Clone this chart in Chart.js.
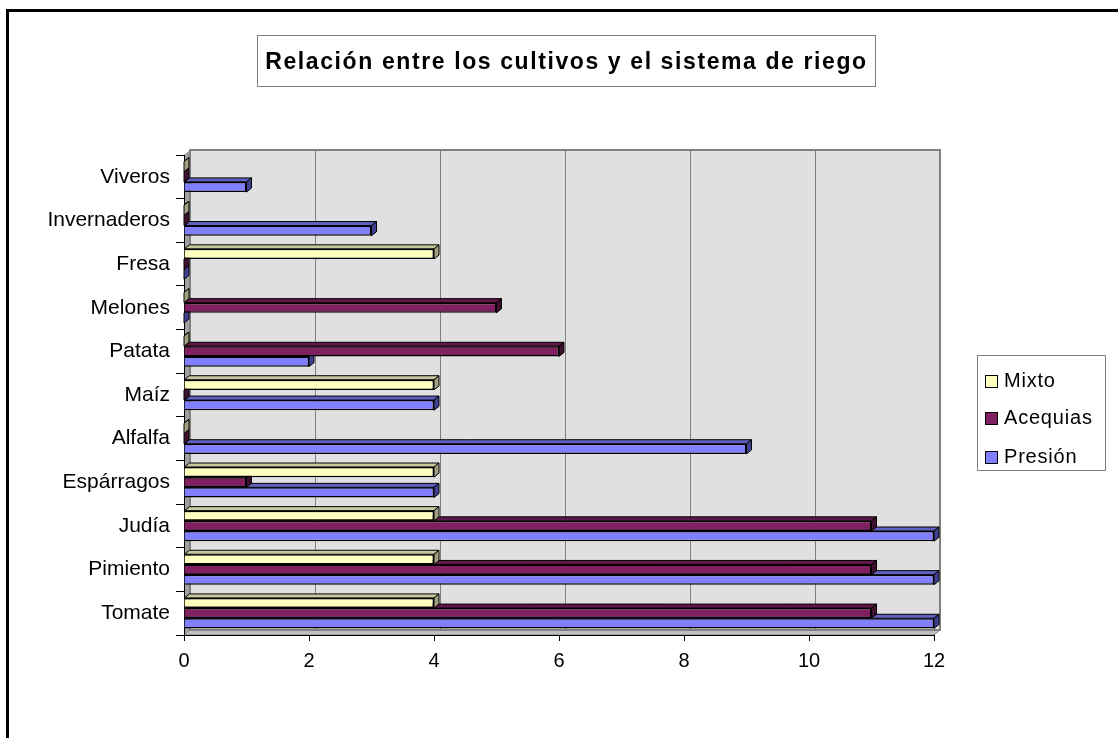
<!DOCTYPE html>
<html>
<head>
<meta charset="utf-8">
<script src="https://cdn.jsdelivr.net/npm/chart.js@4.4.1/dist/chart.umd.min.js"></script>
<style>
body { margin: 0; background: #fff; font-family: "Liberation Sans", Arial, sans-serif; }
#wrap { position: relative; width: 1118px; height: 738px; overflow: hidden; }
#frame { position: absolute; left: 6px; top: 9px; width: 1200px; height: 800px; border-left: 3px solid #000; border-top: 3px solid #000; }
canvas { position: absolute; left: 0; top: 0; }
#title { position: absolute; left: 257px; top: 35px; width: 619px; height: 52px; box-sizing: border-box; border: 1px solid #808080;
  text-align: center; line-height: 50px; font-weight: bold; font-size: 23px; letter-spacing: 1.6px; white-space: nowrap; }
#legend { position: absolute; left: 977px; top: 355px; width: 129px; height: 116px; box-sizing: border-box; border: 1px solid #808080; }
.item { position: absolute; left: 7px; font-size: 20px; letter-spacing: 0.8px; line-height: 20px; white-space: nowrap; }
.sw { display: inline-block; width: 11px; height: 11px; border: 1.5px solid #000; margin-right: 6px; vertical-align: -1px; }
</style>
</head>
<body>
<div id="wrap">
  <div id="frame"></div>
  <canvas id="chart" width="1118" height="738"></canvas>
  <div id="title">Relación entre los cultivos y el sistema de riego</div>
  <div id="legend"></div>
</div>
<script>
// categories bottom to top, as in the sheet
const categories = ['Tomate', 'Pimiento', 'Judía', 'Espárragos', 'Alfalfa', 'Maíz', 'Patata', 'Melones', 'Fresa', 'Invernaderos', 'Viveros'];
const seriesNames = ['Mixto', 'Acequias', 'Presión'];
const mixto = [4, 4, 4, 4, 0, 4, 0, 0, 4, 0, 0];
const acequias = [11, 11, 11, 1, 0, 0, 6, 5, 0, 0, 0];
const presion = [12, 12, 12, 4, 9, 4, 2, 0, 0, 3, 1];
const xMax = 12;
const xStep = 2;

// front / top / end colours of the 3d bars
const colors = [
    { front: '#FFFFC0', top: '#C8C8A0', side: '#A0A080' },
    { front: '#802060', top: '#601848', side: '#401030' },
    { front: '#8080FF', top: '#6060C0', side: '#404090' }
];

const FONT = '"Liberation Sans", Arial, sans-serif';

const walls = {
    id: 'walls',
    beforeDraw(chart) {
        const ctx = chart.ctx;
        const a = chart.chartArea;
        const xs = chart.scales.x;
        const d = 6, e = 5;
        ctx.save();
        ctx.fillStyle = '#E0E0E0';
        ctx.fillRect(a.left + d, a.top - e, a.right - a.left, a.bottom - a.top);
        // side wall
        ctx.beginPath();
        ctx.moveTo(a.left, a.top);
        ctx.lineTo(a.left + d, a.top - e);
        ctx.lineTo(a.left + d, a.bottom - e);
        ctx.lineTo(a.left, a.bottom);
        ctx.closePath();
        ctx.fillStyle = '#A0A0A0';
        ctx.fill();
        // floor
        ctx.beginPath();
        ctx.moveTo(a.left, a.bottom);
        ctx.lineTo(a.left + d, a.bottom - e);
        ctx.lineTo(a.right + d, a.bottom - e);
        ctx.lineTo(a.right, a.bottom);
        ctx.closePath();
        ctx.fillStyle = '#C0C0C0';
        ctx.fill();
        ctx.strokeStyle = '#808080';
        ctx.lineWidth = 1;
        ctx.stroke();
        // grid on back wall
        ctx.beginPath();
        for (let v = 0; v <= xMax; v += xStep) {
            const x = Math.round(xs.getPixelForValue(v) + d) + 0.5;
            ctx.moveTo(x, a.top - e);
            ctx.lineTo(x, a.bottom - e);
        }
        ctx.strokeStyle = '#808080';
        ctx.stroke();
        ctx.lineWidth = 2;
        ctx.strokeRect(a.left + d, a.top - e, a.right - a.left, a.bottom - a.top);
        ctx.restore();
    }
};

const bars3d = {
    id: 'bars3d',
    afterDatasetDraw(chart, args) {
        const ctx = chart.ctx;
        const c = colors[args.index];
        const dx = 5, dy = 4;
        ctx.save();
        ctx.lineWidth = 1;
        ctx.strokeStyle = '#000';
        args.meta.data.forEach(el => {
            const p = el.getProps(['x', 'y', 'base', 'height'], true);
            const x0 = Math.min(p.base, p.x), x1 = Math.max(p.base, p.x);
            const yt = p.y - p.height / 2, yb = p.y + p.height / 2;
            ctx.beginPath();
            ctx.moveTo(x0, yt);
            ctx.lineTo(x0 + dx, yt - dy);
            ctx.lineTo(x1 + dx, yt - dy);
            ctx.lineTo(x1, yt);
            ctx.closePath();
            ctx.fillStyle = c.top;
            ctx.fill();
            ctx.stroke();
            ctx.beginPath();
            ctx.moveTo(x1, yt);
            ctx.lineTo(x1 + dx, yt - dy);
            ctx.lineTo(x1 + dx, yb - dy);
            ctx.lineTo(x1, yb);
            ctx.closePath();
            ctx.fillStyle = c.side;
            ctx.fill();
            ctx.stroke();
        });
        ctx.restore();
    }
};

const values = [mixto, acequias, presion];

new Chart(document.getElementById('chart'), {
    type: 'bar',
    data: {
        labels: categories,
        datasets: seriesNames.map((name, i) => ({
            label: name,
            data: values[i],
            backgroundColor: colors[i].front,
            borderColor: '#000',
            borderWidth: 1.5,
            borderSkipped: 'start'
        }))
    },
    options: {
        indexAxis: 'y',
        responsive: false,
        animation: false,
        layout: { padding: { top: 155, right: 184, bottom: 0, left: 0 } },
        datasets: { bar: { categoryPercentage: 0.7, barPercentage: 1 } },
        plugins: { legend: { display: false }, title: { display: false }, tooltip: { enabled: false } },
        scales: {
            x: {
                min: 0,
                max: xMax,
                ticks: { stepSize: xStep, color: '#000', padding: 8, font: { size: 20, family: FONT } },
                grid: { drawOnChartArea: false, tickLength: 6, tickColor: '#000' },
                border: { color: '#000' },
                afterFit(s) { s.height = 103; }
            },
            y: {
                reverse: true,
                ticks: { color: '#000', padding: 6, font: { size: 21, family: FONT } },
                grid: { drawOnChartArea: false, tickLength: 8, tickColor: '#000' },
                border: { color: '#000' },
                afterFit(s) { s.width = 184; }
            }
        }
    },
    plugins: [walls, bars3d]
});

// legend
const legend = document.getElementById('legend');
const tops = [14, 51, 90];
seriesNames.forEach((name, i) => {
    const div = document.createElement('div');
    div.className = 'item';
    div.style.top = tops[i] + 'px';
    div.innerHTML = '<span class="sw" style="background:' + colors[i].front + '"></span>' + name;
    legend.appendChild(div);
});
</script>
</body>
</html>
